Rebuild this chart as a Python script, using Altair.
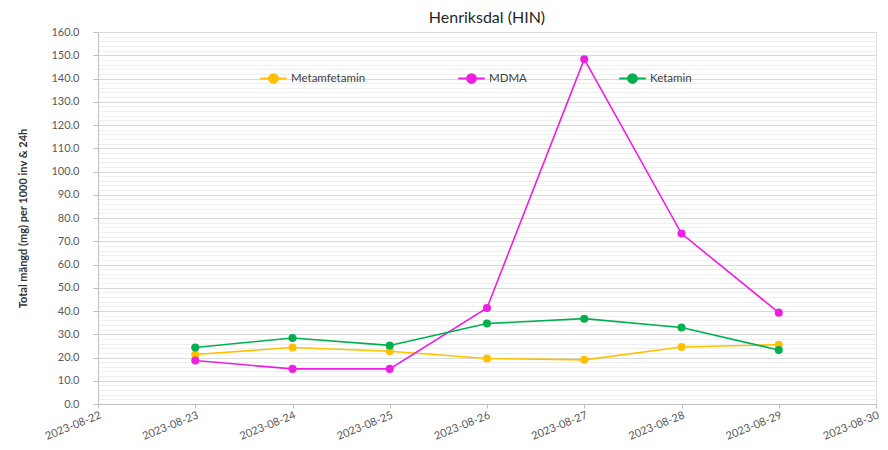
import altair as alt
import pandas as pd

dates = ["2023-08-23", "2023-08-24", "2023-08-25", "2023-08-26",
         "2023-08-27", "2023-08-28", "2023-08-29"]
metamfetamin = [21.3, 24.3, 22.7, 19.6, 19.0, 24.5, 25.5]
mdma = [18.7, 15.1, 15.1, 41.3, 148.3, 73.3, 39.3]
ketamin = [24.3, 28.4, 25.2, 34.6, 36.7, 32.9, 23.2]

series_names = ["Metamfetamin", "MDMA", "Ketamin"]
series_colors = ["#FFC000", "#EE1FE0", "#00B050"]
x_ticks = ["2023-08-22", "2023-08-23", "2023-08-24", "2023-08-25", "2023-08-26",
           "2023-08-27", "2023-08-28", "2023-08-29", "2023-08-30"]
y_grid_values = list(range(0, 161, 2))

rows = []
for name, vals in zip(series_names, [metamfetamin, mdma, ketamin]):
    for d, v in zip(dates, vals):
        rows.append({"date": d, "value": v, "series": name})
df = pd.DataFrame(rows)

FONT = "Lato"
sym = "M-1,0H-0.33M0.33,0H1M-0.33,0A0.33,0.33 0 1,0 0.33,0A0.33,0.33 0 1,0 -0.33,0Z"

x_enc = alt.X(
    "date:T",
    scale=alt.Scale(domain=[{"year": 2023, "month": 8, "date": 22},
                            {"year": 2023, "month": 8, "date": 30}]),
    axis=alt.Axis(
        values=[{"year": 2023, "month": 8, "date": int(t[-2:])} for t in x_ticks],
        format="%Y-%m-%d", labelAngle=-22, labelAlign="right", labelBaseline="top",
        labelPadding=1, grid=False, title=None, domainColor="#bfbfbf",
        tickColor="#bfbfbf", tickSize=4, labelColor="#595959", labelFontSize=11,
        labelFont=FONT, labelOverlap=False, labelBound=False, labelFlush=False),
)

y_enc = alt.Y(
    "value:Q",
    scale=alt.Scale(domain=[0, 160], nice=False),
    axis=alt.Axis(
        values=y_grid_values,
        labelExpr="datum.value % 10 === 0 ? format(datum.value, '.1f') : ''",
        gridColor={"condition": {"test": "datum.value % 10 === 0", "value": "#d9d9d9"},
                   "value": "#efefef"},
        tickOpacity={"condition": {"test": "datum.value % 10 === 0", "value": 1},
                     "value": 0},
        tickColor="#bfbfbf", tickSize=5, domainColor="#bfbfbf",
        labelColor="#595959", labelFontSize=11, labelFont=FONT, labelPadding=14,
        title="Total mängd (mg) per 1000 inv & 24h", titleFont=FONT,
        titleFontSize=11, titleFontWeight="bold", titleColor="#333333",
        titlePadding=22),
)

color_enc = alt.Color(
    "series:N",
    scale=alt.Scale(domain=series_names, range=series_colors),
    sort=series_names,
    legend=alt.Legend(
        orient="none", legendX=161, legendY=32, direction="horizontal",
        title=None, symbolType=sym, symbolSize=700, symbolStrokeWidth=2,
        columnPadding=88, labelFont=FONT, labelFontSize=11.5,
        labelColor="#404040", labelOffset=3),
)

chart = alt.Chart(df).mark_line(
    strokeWidth=1.6,
    point=alt.OverlayMarkDef(filled=True, size=65, opacity=1),
).encode(x=x_enc, y=y_enc, color=color_enc).properties(
    width=778, height=372,
    title=alt.Title("Henriksdal (HIN)", font=FONT, fontSize=16, fontWeight="normal",
                    color="#262626", offset=0),
    autosize=alt.AutoSizeParams(type="none"),
    padding={"left": 90, "top": 24, "right": 4, "bottom": 38},
).configure_view(stroke=None).configure(background="white")

chart.save("out.html", embed_options={"renderer": "svg", "actions": False})
